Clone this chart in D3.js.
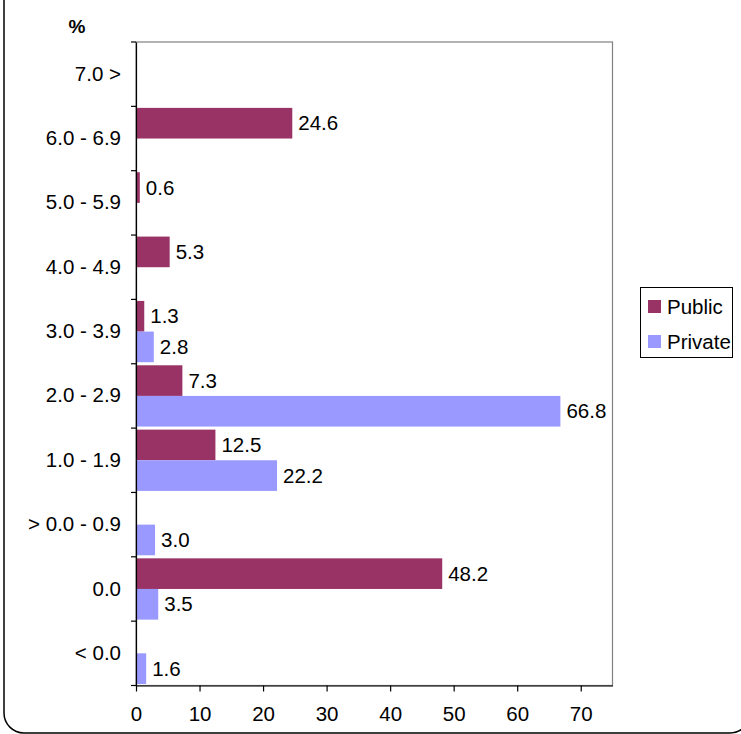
<!DOCTYPE html>
<html>
<head>
<meta charset="utf-8">
<script src="https://cdn.jsdelivr.net/npm/d3@7"></script>
<style>
  html, body { margin: 0; padding: 0; background: #fff; }
  svg { display: block; }
  text { font-family: "Liberation Sans", Arial, sans-serif; fill: #000; }
</style>
</head>
<body>
<script>
const categories = ["7.0 >", "6.0 - 6.9", "5.0 - 5.9", "4.0 - 4.9", "3.0 - 3.9", "2.0 - 2.9", "1.0 - 1.9", "> 0.0 - 0.9", "0.0", "< 0.0"];
const seriesNames = ["Public", "Private"];
const publicValues = [null, 24.6, 0.6, 5.3, 1.3, 7.3, 12.5, null, 48.2, null];
const privateValues = [null, null, null, null, 2.8, 66.8, 22.2, 3.0, 3.5, 1.6];
const xTicks = [0, 10, 20, 30, 40, 50, 60, 70];
const xMax = 75;
const colors = ["#993366", "#9999FF"];

const W = 741, H = 734;
const plot = { left: 136, right: 612.5, top: 42, bottom: 685.5 };
const FS = 20.5;

const svg = d3.select("body").append("svg").attr("width", W).attr("height", H);

// outer rounded frame
svg.append("rect")
  .attr("x", 4).attr("y", -40).attr("width", 746).attr("height", 773)
  .attr("rx", 20).attr("ry", 20)
  .attr("fill", "none").attr("stroke", "#000").attr("stroke-width", 1.5);

const x = d3.scaleLinear().domain([0, xMax]).range([plot.left, plot.right]);
const y = d3.scaleBand().domain(categories).range([plot.top, plot.bottom]).padding(0);
const ySub = d3.scaleBand().domain(seriesNames).range([0, y.bandwidth()]).paddingInner(0).paddingOuter(0.05);

// plot border (gray)
svg.append("rect")
  .attr("x", plot.left).attr("y", plot.top)
  .attr("width", plot.right - plot.left).attr("height", plot.bottom - plot.top)
  .attr("fill", "#fff").attr("stroke", "#808080").attr("stroke-width", 1.2);

const data = [];
categories.forEach((c, i) => {
  [publicValues[i], privateValues[i]].forEach((v, s) => {
    if (v !== null) data.push({ cat: c, series: seriesNames[s], value: v, color: colors[s] });
  });
});

svg.append("g").selectAll("rect").data(data).join("rect")
  .attr("x", x(0))
  .attr("y", d => y(d.cat) + ySub(d.series))
  .attr("width", d => x(d.value) - x(0))
  .attr("height", ySub.bandwidth())
  .attr("fill", d => d.color);

svg.append("g").selectAll("text").data(data).join("text")
  .attr("x", d => x(d.value) + 6)
  .attr("y", d => y(d.cat) + ySub(d.series) + ySub.bandwidth() / 2)
  .attr("dy", "0.35em")
  .style("font-size", FS + "px")
  .text(d => d.value.toFixed(1));

// y axis
const yAxis = d3.axisLeft(y).tickSize(0).tickPadding(15);
const gy = svg.append("g").attr("transform", `translate(${plot.left},0)`).call(yAxis);
gy.select(".domain").attr("stroke", "#000").attr("stroke-width", 1.2);
gy.selectAll("text").style("font-size", FS + "px").style("font-family", '"Liberation Sans", Arial, sans-serif');
// category boundary ticks
const bounds = categories.map(c => y(c)).concat([plot.bottom]);
svg.append("g").selectAll("line").data(bounds).join("line")
  .attr("x1", plot.left - 5).attr("x2", plot.left)
  .attr("y1", d => d).attr("y2", d => d)
  .attr("stroke", "#000").attr("stroke-width", 1.2);

// x axis
const xAxis = d3.axisBottom(x).tickValues(xTicks).tickSize(6).tickPadding(15).tickSizeOuter(0);
const gx = svg.append("g").attr("transform", `translate(0,${plot.bottom})`).call(xAxis);
gx.select(".domain").attr("stroke", "#000").attr("stroke-width", 1.2);
gx.selectAll("line").attr("stroke", "#000").attr("stroke-width", 1.2);
gx.selectAll("text").style("font-size", FS + "px").style("font-family", '"Liberation Sans", Arial, sans-serif');

// percent label
svg.append("text").attr("x", 77).attr("y", 26).attr("dy", "0.35em")
  .attr("text-anchor", "middle").style("font-size", "19px").style("font-weight", "bold").text("%");

// legend
const lg = svg.append("g");
lg.append("rect").attr("x", 640.5).attr("y", 287.5).attr("width", 92).attr("height", 70)
  .attr("fill", "#fff").attr("stroke", "#000").attr("stroke-width", 1);
seriesNames.forEach((s, i) => {
  const cy = 306.5 + i * 35;
  lg.append("rect").attr("x", 648).attr("y", cy - 6.5).attr("width", 13).attr("height", 13).attr("fill", colors[i]);
  lg.append("text").attr("x", 667).attr("y", cy).attr("dy", "0.35em").style("font-size", FS + "px").text(s);
});
</script>
</body>
</html>
